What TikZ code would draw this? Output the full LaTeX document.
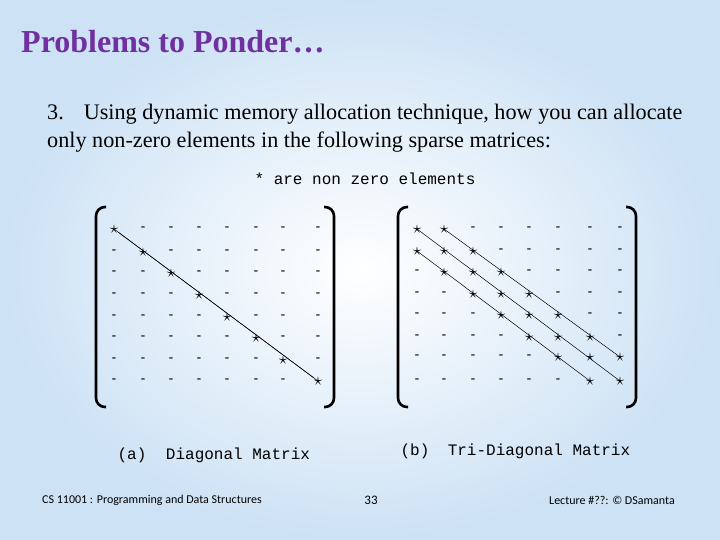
\documentclass[tikz,border=0pt]{standalone}
\usepackage{fontspec}
\setmainfont{Liberation Serif}
\newfontfamily\cour{Liberation Mono}
\newfontfamily\carl{Carlito}
\definecolor{bgA}{RGB}{205,226,245}
\definecolor{titlec}{RGB}{112,48,160}
\begin{document}
\begin{tikzpicture}[x=1pt,y=-1pt,
  ent/.style={inner sep=0pt,font=\fontsize{13}{13}\selectfont\bfseries},
  st/.style={inner sep=0pt,font=\fontsize{17}{17}\selectfont},
  link/.style={line width=0.5pt},
  brk/.style={line width=2.6pt,rounded corners=9pt},
  captxt/.style={font=\cour\fontsize{16}{16}\selectfont,inner sep=0pt}]
\useasboundingbox (0,0) rectangle (720,540);
\shade[inner color=white,outer color=bgA] (0,0) rectangle (720,540);
\node[anchor=west,text=titlec,font=\bfseries\fontsize{32}{32}\selectfont,inner sep=0pt] (title) at (21,42) {Problems to Ponder…};
\node[anchor=west,font=\fontsize{22.2}{22}\selectfont,inner sep=0pt] (l1) at (47,114) {3.\hspace{0.9em}Using dynamic memory allocation technique, how you can allocate};
\node[anchor=west,font=\fontsize{22.2}{22}\selectfont,inner sep=0pt] (l2) at (47,142) {only non-zero elements in the following sparse matrices:};
\node[captxt] (note) at (365,179) {* are non zero elements};
% matrix a
\foreach \r/\y in {1/229,2/252,3/273,4/295,5/317,6/338,7/360,8/381}{
 \foreach \c/\x in {1/114,2/143,3/171,4/199,5/227,6/256,7/283,8/318}{
  \ifnum\r=\c \node[st] (a-\r-\c) at (\x,\y) {$\star$};
  \else \node[ent] (a-\r-\c) at (\x,\y) {-};\fi }}
\draw[link] (a-1-1) -- (a-8-8);
% matrix b
\foreach \r/\y in {1/229,2/251,3/272,4/294,5/315,6/337,7/357,8/381}{
 \foreach \c/\x in {1/417,2/444,3/473,4/501,5/529,6/558,7/590,8/620}{
  \pgfmathtruncatemacro\d{abs(\r-\c)}
  \ifnum\d<2 \node[st] (b-\r-\c) at (\x,\y) {$\star$};
  \else \node[ent] (b-\r-\c) at (\x,\y) {-};\fi }}
\draw[link] (b-1-1.center) -- (b-8-8.center);
\draw[link] (b-1-2.center) -- (b-7-8.center);
\draw[link] (b-2-1.center) -- (b-8-7.center);
\draw[link] (a-1-1.center) -- (a-8-8.center);
% brackets
\draw[brk] (106,207) -- (96,207) -- (96,407) -- (106,407);
\draw[brk] (324,207) -- (334,207) -- (334,407) -- (324,407);
\draw[brk] (408,207) -- (398,207) -- (398,407) -- (408,407);
\draw[brk] (626,207) -- (636,207) -- (636,407) -- (626,407);
\node[captxt] (ca) at (132,455) {(a)};
\node[captxt] (cad) at (238,455) {Diagonal Matrix};
\node[captxt] (cb) at (415,451) {(b)};
\node[captxt] (cbd) at (539,451) {Tri-Diagonal Matrix};
\node[font=\carl\fontsize{12}{12}\selectfont,inner sep=0pt] (f1) at (152,500) {CS 11001 : Programming and Data Structures};
\node[font=\carl\fontsize{13}{13}\selectfont,inner sep=0pt] (f2) at (371,500) {33};
\node[font=\carl\fontsize{12}{12}\selectfont,inner sep=0pt] (f3) at (612,500) {Lecture \#??: © DSamanta};
\end{tikzpicture}
\end{document}
